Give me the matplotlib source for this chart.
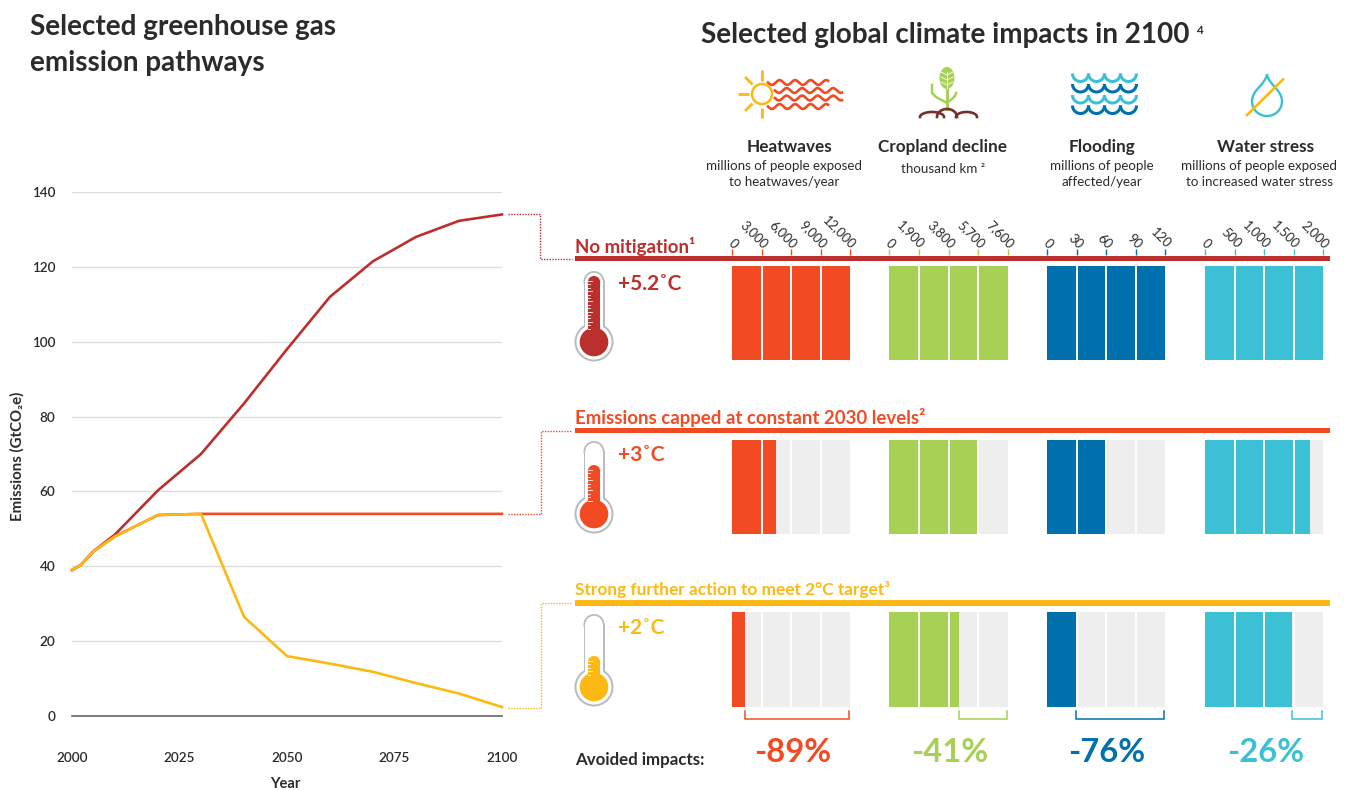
import numpy as np
import matplotlib
matplotlib.use('Agg')
import matplotlib.pyplot as plt
from matplotlib.patches import Circle, Rectangle, PathPatch, Ellipse
from matplotlib.path import Path

plt.rcParams['font.family'] = ['Lato', 'Noto Sans', 'DejaVu Sans']

years_nomit = [2000, 2002, 2005, 2010, 2020, 2030, 2040, 2050, 2060, 2070, 2080, 2090, 2100]
nomit = [39, 40.3, 44, 48.5, 60.3, 70, 83.5, 98, 112, 121.5, 128, 132.3, 134]
years_cap = [2000, 2002, 2005, 2010, 2020, 2030, 2100]
capped = [39, 40.3, 44, 48, 53.7, 54, 54]
years_strong = [2000, 2002, 2005, 2010, 2020, 2030, 2040, 2050, 2060, 2070, 2080, 2090, 2100]
strong = [39, 40.3, 44, 48, 53.7, 54, 26.5, 16, 14, 11.8, 8.8, 6, 2.4]

impacts = ['Heatwaves', 'Cropland decline', 'Flooding', 'Water stress']
subtitles = [['millions of people exposed', 'to heatwaves/year'], ['thousand km ²'],
             ['millions of people', 'affected/year'],
             ['millions of people exposed', 'to increased water stress']]
impact_ticks = [[0, 3000, 6000, 9000, 12000], [0, 1900, 3800, 5700, 7600],
                [0, 30, 60, 90, 120], [0, 500, 1000, 1500, 2000]]
row_nomit = [12000, 7600, 120, 2000]
row_capped = [4480, 5620, 59, 1780]
row_strong = [1320, 4480, 29, 1480]
avoided = ['-89%', '-41%', '-76%', '-26%']
row_names = ['No mitigation¹', 'Emissions capped at constant 2030 levels²',
             'Strong further action to meet 2°C target³']
temps = ['+5.2˚C', '+3˚C', '+2˚C']

W, H = 1349, 790
RED, ORANGE, YEL = '#bb2f2c', '#f24b23', '#fdb913'
COLS = ['#f24b23', '#a6d155', '#0071ad', '#3cc0d5']
DARK = '#2b2b2b'
GREY = '#eeeeee'

fig = plt.figure(figsize=(W / 100, H / 100), dpi=100, facecolor='white')

def axpx(x0, y0, x1, y1, **kw):
    return fig.add_axes([x0 / W, 1 - y1 / H, (x1 - x0) / W, (y1 - y0) / H], **kw)

ov = fig.add_axes([0, 0, 1, 1], zorder=5)
ov.set_xlim(0, W); ov.set_ylim(H, 0); ov.axis('off'); ov.patch.set_alpha(0)

ax = axpx(72, 192, 502, 716)
ax.set_xlim(2000, 2100); ax.set_ylim(0, 140)
for s in ax.spines.values():
    s.set_visible(False)
ax.set_yticks(range(0, 141, 20))
ax.set_xticks([2000, 2025, 2050, 2075, 2100])
ax.tick_params(length=0, labelsize=9.7, labelcolor=DARK)
ax.tick_params(axis='x', pad=26)
ax.tick_params(axis='y', pad=12)
for lab in ax.get_xticklabels() + ax.get_yticklabels():
    lab.set_fontweight('semibold')
ax.grid(axis='y', color='#dcdcdc', lw=1.0)
ax.grid(axis='x', visible=False)
ax.set_axisbelow(True)
ax.axhline(0, color='#666666', lw=1.2, clip_on=False)
ax.plot(years_nomit, nomit, color=RED, lw=1.9, solid_joinstyle='round', clip_on=False)
ax.plot(years_cap, capped, color=ORANGE, lw=1.9, solid_joinstyle='round', clip_on=False)
ax.plot(years_strong, strong, color=YEL, lw=1.9, solid_joinstyle='round', clip_on=False)
ov.text(17.5, 456.5, 'Emissions (GtCO₂e)', rotation=90, ha='center', va='center',
        fontsize=10.8, fontweight='bold', color=DARK)
ov.text(285, 783.5, 'Year', ha='center', va='center', fontsize=10.6, fontweight='bold', color=DARK)

ov.text(30, 27, 'Selected greenhouse gas', fontsize=20.1, fontweight='bold', color=DARK, ha='left', va='center')
ov.text(30, 63, 'emission pathways', fontsize=20.1, fontweight='bold', color=DARK, ha='left', va='center')
ov.text(701, 35, 'Selected global climate impacts in 2100', fontsize=20.1, fontweight='bold',
        color=DARK, ha='left', va='center')
ov.text(1199, 30, '4', fontsize=8.5, fontweight='bold', color=DARK, ha='center', va='center')

col_x = [(732, 850), (889, 1008), (1047, 1165), (1205, 1323)]
head_x = [789, 943, 1102, 1266]
sub_x = [784, 943, 1102, 1259]
pct_x = [793, 949.5, 1107, 1266]
rows_y = [(266, 360), (440, 534), (612, 707)]
rows_val = [row_nomit, row_capped, row_strong]
band_y = [258.5, 430.5, 603]
band_col = [RED, ORANGE, YEL]
label_y = [246, 417.5, 590]
label_fs = [13.4, 13.4, 12.4]

for i, name in enumerate(impacts):
    ov.text(head_x[i], 147, name, ha='center', va='center', fontsize=12.3, fontweight='bold', color=DARK)
    for j, line in enumerate(subtitles[i]):
        ov.text(sub_x[i], 166 + j * 16.5 + (3 if len(subtitles[i]) == 1 else 0), line, ha='center',
                va='center', fontsize=9.6, color=DARK)
    x0, x1 = col_x[i]
    sc = axpx(x0, 255, x1, 256)
    sc.set_xlim(0, impact_ticks[i][-1]); sc.set_yticks([])
    sc.patch.set_alpha(0)
    for s in sc.spines.values():
        s.set_visible(False)
    sc.xaxis.tick_top()
    sc.set_xticks(impact_ticks[i])
    sc.set_xticklabels([])
    sc.tick_params(axis='x', length=4, width=1, color=COLS[i])
    for tv in impact_ticks[i]:
        sc.annotate(f'{tv:,}', xy=(tv, 1), xycoords=('data', 'axes fraction'), xytext=(3, 6.2),
                    textcoords='offset points', rotation=-45, ha='right', va='center',
                    rotation_mode='anchor', fontsize=9.4, color=DARK, annotation_clip=False)
    for r in range(3):
        y0, y1 = rows_y[r]
        a = axpx(x0, y0, x1, y1)
        a.set_xlim(0, impact_ticks[i][-1]); a.set_ylim(0, 1)
        a.set_facecolor(GREY)
        for s in a.spines.values():
            s.set_visible(False)
        a.set_xticks([]); a.set_yticks([])
        a.barh([0.5], [rows_val[r][i]], height=1, color=COLS[i])
        for t in impact_ticks[i][1:-1]:
            a.axvline(t, color='white', lw=1.4)
    bx0 = x0 + (x1 - x0) * row_strong[i] / impact_ticks[i][-1]
    ov.plot([bx0, bx0, x1 - 1, x1 - 1], [711, 719, 719, 711], color=COLS[i], lw=1.1, solid_joinstyle='miter')
    ov.text(pct_x[i], 753, avoided[i], ha='center', va='center', fontsize=23.6,
            fontweight='bold', color=COLS[i])

ov.text(575, 760, 'Avoided impacts:', ha='left', va='center', fontsize=12.2, fontweight='bold', color=DARK)

conn = [([508, 540, 540, 572], [214, 214, 259, 259]),
        ([508, 541, 541, 572], [514, 514, 431, 431]),
        ([508, 541, 541, 572], [708, 708, 603, 603])]
for r in range(3):
    ov.add_patch(Rectangle((575, band_y[r] - 2.7), 755, 5.4, color=band_col[r], lw=0))
    ov.text(575, label_y[r], row_names[r], ha='left', va='center', fontsize=label_fs[r], fontweight='bold', color=band_col[r])
    ov.plot(*conn[r], color=band_col[r], lw=1.0, ls=(0, (1, 1)))

bulb_y = [342, 514, 687]
stem_top = [271, 441, 614]
fill_top = [276, 465, 656]
temp_y = [284, 455, 628]
for r in range(3):
    cx, cy = 594, bulb_y[r]
    c = band_col[r]
    ov.add_patch(Circle((cx, cy), 19.5, fc='#b9bbbe', ec='none'))
    ov.add_patch(Rectangle((cx - 10.5, stem_top[r] + 10), 21, cy - stem_top[r] - 10, fc='#b9bbbe', ec='none'))
    ov.add_patch(Circle((cx, stem_top[r] + 10.5), 10.5, fc='#b9bbbe', ec='none'))
    ov.add_patch(Circle((cx, cy), 17.5, fc='white', ec='none'))
    ov.add_patch(Rectangle((cx - 8.7, stem_top[r] + 10), 17.4, cy - stem_top[r] - 10, fc='white', ec='none'))
    ov.add_patch(Circle((cx, stem_top[r] + 10.5), 8.7, fc='white', ec='none'))
    ov.add_patch(Circle((cx, cy), 14.3, fc=c, ec='none'))
    ov.add_patch(Rectangle((cx - 6.2, fill_top[r] + 6), 12.4, cy - fill_top[r] - 6, fc=c, ec='none'))
    ov.add_patch(Circle((cx, fill_top[r] + 6.2), 6.2, fc=c, ec='none'))
    for k, yy in enumerate(np.arange(fill_top[r] + 5, cy - 10, 3.4)):
        ov.plot([cx - 6.2, cx - 6.2 + (4 if k % 3 == 0 else 2.5)], [yy, yy], color='white', lw=0.6)
    ov.text(618, temp_y[r], temps[r], ha='left', va='center', fontsize=15, fontweight='bold', color=c)

# sun + heat waves
sx, sy = 762, 94
ov.add_patch(Circle((sx, sy), 10, fc='none', ec=YEL, lw=1.8))
for ang in [90, 135, 180, 225, 270]:
    ca, sa = np.cos(np.radians(ang)), -np.sin(np.radians(ang))
    ov.plot([sx + 13.5 * ca, sx + 24 * ca], [sy + 13.5 * sa, sy + 24 * sa], color=YEL, lw=2.0, solid_capstyle='butt')
t = np.linspace(0, 1, 200)
for wy, a0, a1 in [(82.5, 768, 828), (90.5, 775, 842), (98, 775, 842), (106.5, 768, 828)]:
    xs = a0 + (a1 - a0) * t
    ov.plot(xs, wy + 2.4 * np.sin((xs - a0) / 15.5 * 2 * np.pi), color=ORANGE, lw=1.9)

# wheat
GR, BR = COLS[1], '#74302a'
ov.plot([947, 947], [85, 109], color=GR, lw=2.1)
ov.plot([932, 932, 936, 947], [85, 93, 97, 103], color=GR, lw=1.8)
ov.plot([956, 955, 952, 947], [93, 96, 99, 103], color=GR, lw=1.8)
ov.add_patch(Ellipse((947, 78), 15, 22, fc=GR, ec='none'))
ov.plot([947, 947], [72, 88], color='white', lw=0.6)
for yy in [75, 80, 85]:
    ov.plot([941, 947, 953], [yy - 3, yy, yy - 3], color='white', lw=0.6)
for c0, c1, top in [(920, 944, 112), (937, 957, 109), (956, 977, 112)]:
    th = np.linspace(np.pi, 0, 40)
    ov.plot((c0 + c1) / 2 + (c1 - c0) / 2 * np.cos(th), 117 - (117 - top) * np.sin(th), color=BR, lw=1.9)

# flood waves
for k, wy in enumerate([73.5, 84, 95, 105.5]):
    wc = COLS[3] if k % 2 == 0 else COLS[2]
    for q in range(4):
        xa = 1072.5 + q * 16
        th = np.linspace(np.pi, 2 * np.pi, 30)
        ov.plot(xa + 8 + 8 * np.cos(th), wy - 8 * np.sin(th), color=wc, lw=2.2, solid_capstyle='butt')

# droplet
dverts = [(1267, 74), (1266, 84), (1252, 90), (1252, 101), (1252, 110), (1259, 116), (1267, 116),
          (1275, 116), (1282, 110), (1282, 101), (1282, 90), (1268, 84), (1267, 74)]
dcodes = [Path.MOVETO] + [Path.CURVE4] * 12
ov.add_patch(PathPatch(Path(dverts, dcodes), fc='none', ec=COLS[3], lw=1.7))
ov.plot([1247, 1283], [115, 79.5], color=YEL, lw=1.9)

fig.savefig('out.png', dpi=100, facecolor='white')
